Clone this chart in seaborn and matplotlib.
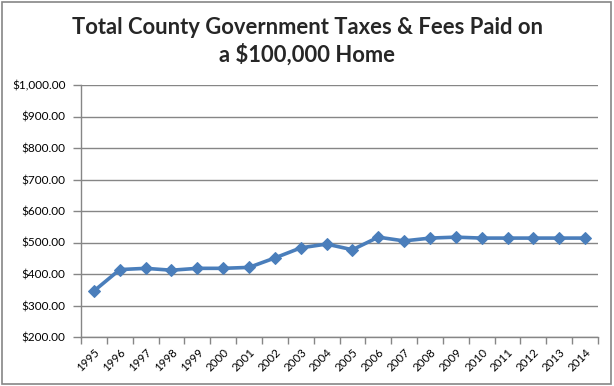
import matplotlib
matplotlib.use("Agg")
import matplotlib.pyplot as plt
import seaborn as sns
import numpy as np
import pandas as pd
from matplotlib.ticker import FuncFormatter, FixedLocator
from matplotlib.patches import Rectangle

years = ["1995", "1996", "1997", "1998", "1999", "2000", "2001", "2002", "2003", "2004",
         "2005", "2006", "2007", "2008", "2009", "2010", "2011", "2012", "2013", "2014"]
taxes = [346, 414, 418, 412, 418, 418, 421, 451, 483, 495,
         477, 517, 505, 514, 517, 514, 514, 514, 514, 514]

sns.set_theme(style="white")
plt.rcParams['font.family'] = ['Lato', 'DejaVu Sans']

df = pd.DataFrame({"pos": np.arange(len(years)), "year": years, "tax": taxes})

fig = plt.figure(figsize=(6.14, 3.86), dpi=100)
ax = fig.add_axes([81/614, 1-337/386, (598-81)/614, (337-85)/386])

sns.lineplot(data=df, x="pos", y="tax", ax=ax, color="#4A7EBB", linewidth=2.6,
             marker="D", markersize=6.5, markeredgecolor="#4A7EBB", markerfacecolor="#4A7EBB")

ax.set_xlim(-0.5, len(years) - 0.5)
ax.set_ylim(200, 1000)
ax.set_yticks(np.arange(200, 1001, 100))
ax.yaxis.set_major_formatter(FuncFormatter(lambda v, p: "${:,.2f}".format(v)))
ax.grid(axis="y", color="#868686", linewidth=1)
ax.set_axisbelow(True)

ax.set_xticks(np.arange(len(years)))
ax.set_xticklabels(years, rotation=45, ha="right", rotation_mode="anchor")
ax.xaxis.set_minor_locator(FixedLocator(np.arange(-0.5, len(years), 1)))
ax.tick_params(axis="x", which="major", length=0, labelsize=8.3, pad=7, colors="#000000")
ax.tick_params(axis="x", which="minor", length=5, color="#868686", width=1, direction="out", bottom=True)
ax.tick_params(axis="y", which="major", length=6, color="#868686", width=1, direction="out", left=True,
               labelsize=8.5, pad=5)
for lbl in ax.get_yticklabels():
    lbl.set_color("#000000")

ax.set_xlabel("")
ax.set_ylabel("")
for s in ["top", "right"]:
    ax.spines[s].set_visible(False)
for s in ["left", "bottom"]:
    ax.spines[s].set_color("#868686")
    ax.spines[s].set_linewidth(1)

fig.text(0.5, 1-28/386, "Total County Government Taxes & Fees Paid on", ha="center", va="center",
         fontsize=15.8, fontweight="bold")
fig.text(0.5, 1-55/386, "a $100,000 Home", ha="center", va="center",
         fontsize=15.8, fontweight="bold")

fig.patches.append(Rectangle((0.003, 0.005), 0.992, 0.99, transform=fig.transFigure,
                             fill=False, edgecolor="#868686", linewidth=1.2))

fig.savefig("out.png", dpi=100)
